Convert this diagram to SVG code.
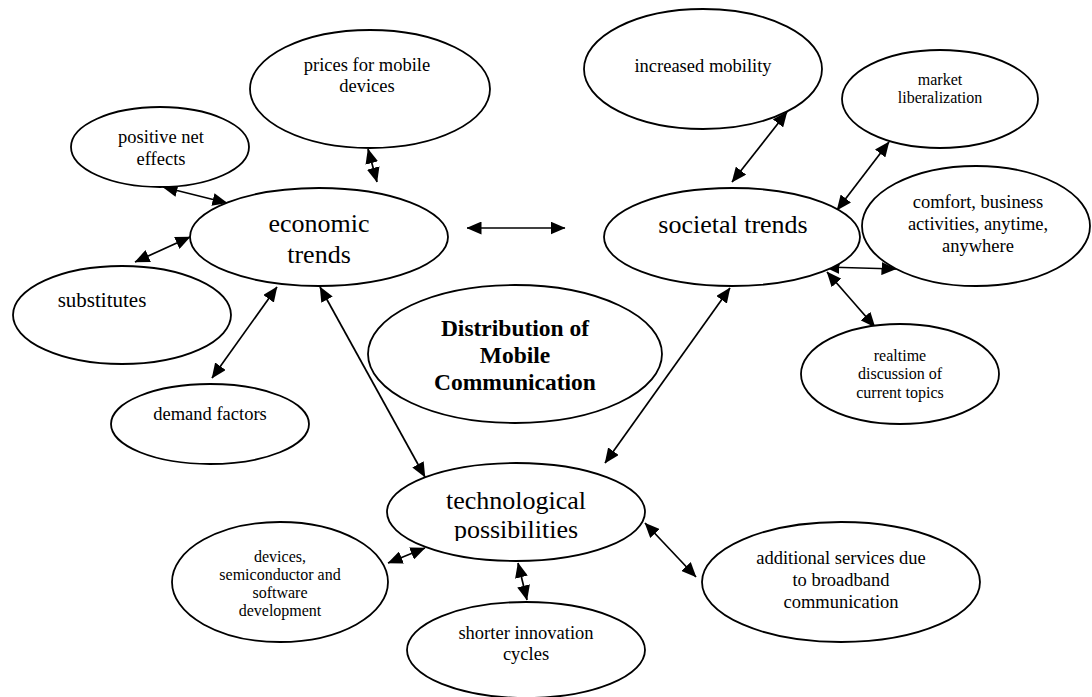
<svg xmlns="http://www.w3.org/2000/svg" width="1092" height="697" viewBox="0 0 1092 697">
<defs>
<style>
.n{fill:#fff;stroke:#000;stroke-width:1.8}
.t{font-family:"Liberation Serif","Times New Roman",serif;fill:#000;text-anchor:middle}
.big{font-size:26px}
.med{font-size:18.5px}
.sm{font-size:16px}
.ttl{font-size:23.5px;font-weight:bold}
.c{fill:none;stroke:#000;stroke-width:1.7;marker-start:url(#ah);marker-end:url(#ah)}
</style>
<marker id="ah" viewBox="0 0 15 13" refX="14.5" refY="6.5" markerWidth="15" markerHeight="13" markerUnits="userSpaceOnUse" orient="auto-start-reverse">
<path d="M0,0 L15,6.5 L0,13 z" fill="#000"/>
</marker>
<clipPath id="techclip"><rect x="380" y="455" width="280" height="86"/></clipPath>
</defs>
<rect width="1092" height="697" fill="#fff"/>

<g id="connectors">
<line class="c" x1="467" y1="228" x2="565" y2="228"/>
<line class="c" x1="368" y1="149" x2="377" y2="182"/>
<line class="c" x1="163" y1="187" x2="227" y2="203"/>
<line class="c" x1="135" y1="262" x2="190" y2="237"/>
<line class="c" x1="212" y1="378" x2="277" y2="287"/>
<line class="c" x1="320" y1="287" x2="425" y2="477"/>
<line class="c" x1="730" y1="288" x2="605" y2="463"/>
<line class="c" x1="787" y1="112" x2="732" y2="182"/>
<line class="c" x1="889" y1="142" x2="837" y2="210"/>
<line class="c" x1="825" y1="267" x2="896" y2="269"/>
<line class="c" x1="827" y1="272" x2="875" y2="327"/>
<line class="c" x1="388" y1="563" x2="425" y2="548"/>
<line class="c" x1="518" y1="563" x2="527" y2="600"/>
<line class="c" x1="645" y1="523" x2="696" y2="577"/>
</g>

<g id="prices">
<ellipse class="n" cx="370" cy="89" rx="120" ry="59"/>
<text class="t med" x="367" y="71">prices for mobile</text>
<text class="t med" x="367" y="92">devices</text>
</g>
<g id="positive">
<ellipse class="n" cx="160" cy="147" rx="89" ry="40"/>
<text class="t med" x="161" y="143">positive net</text>
<text class="t med" x="161" y="165">effects</text>
</g>
<g id="economic">
<ellipse class="n" cx="319" cy="237" rx="129" ry="49"/>
<text class="t big" x="319" y="232">economic</text>
<text class="t big" x="319" y="263">trends</text>
</g>
<g id="substitutes">
<ellipse class="n" cx="122" cy="315" rx="109" ry="49"/>
<text class="t" style="font-size:21px" x="102" y="307">substitutes</text>
</g>
<g id="demand">
<ellipse class="n" cx="210" cy="424" rx="99" ry="40"/>
<text class="t med" x="210" y="420">demand factors</text>
</g>
<g id="devices">
<ellipse class="n" cx="280" cy="582" rx="108" ry="60"/>
<text class="t sm" x="280" y="562">devices,</text>
<text class="t sm" x="280" y="580">semiconductor and</text>
<text class="t sm" x="280" y="598">software</text>
<text class="t sm" x="280" y="616">development</text>
</g>
<g id="distribution">
<ellipse class="n" cx="515" cy="354" rx="147" ry="69"/>
<text class="t ttl" x="515" y="336">Distribution of</text>
<text class="t ttl" x="515" y="363">Mobile</text>
<text class="t ttl" x="515" y="390">Communication</text>
</g>
<g id="technological">
<ellipse class="n" cx="516" cy="512" rx="129" ry="49"/>
<g clip-path="url(#techclip)">
<text class="t big" x="516" y="509">technological</text>
<text class="t big" x="516" y="538">possibilities</text>
</g>
</g>
<g id="shorter">
<ellipse class="n" cx="526" cy="650" rx="119" ry="48"/>
<text class="t med" x="526" y="639">shorter innovation</text>
<text class="t med" x="526" y="660">cycles</text>
</g>
<g id="additional">
<ellipse class="n" cx="841" cy="582" rx="139" ry="60"/>
<text class="t med" x="841" y="564">additional services due</text>
<text class="t med" x="841" y="586">to broadband</text>
<text class="t med" x="841" y="608">communication</text>
</g>
<g id="mobility">
<ellipse class="n" cx="703" cy="69" rx="119" ry="60"/>
<text class="t med" x="703" y="72">increased mobility</text>
</g>
<g id="market">
<ellipse class="n" cx="940" cy="99" rx="98" ry="49"/>
<text class="t sm" x="940" y="85">market</text>
<text class="t sm" x="940" y="103">liberalization</text>
</g>
<g id="societal">
<ellipse class="n" cx="732" cy="237" rx="128" ry="49"/>
<text class="t big" x="733" y="233">societal trends</text>
</g>
<g id="comfort">
<ellipse class="n" cx="976" cy="226" rx="114" ry="60"/>
<text class="t med" x="978" y="208">comfort, business</text>
<text class="t med" x="978" y="230">activities, anytime,</text>
<text class="t med" x="978" y="252">anywhere</text>
</g>
<g id="realtime">
<ellipse class="n" cx="900" cy="374" rx="99" ry="50"/>
<text class="t sm" x="900" y="361">realtime</text>
<text class="t sm" x="900" y="379">discussion of</text>
<text class="t sm" x="900" y="398">current topics</text>
</g>
</svg>
